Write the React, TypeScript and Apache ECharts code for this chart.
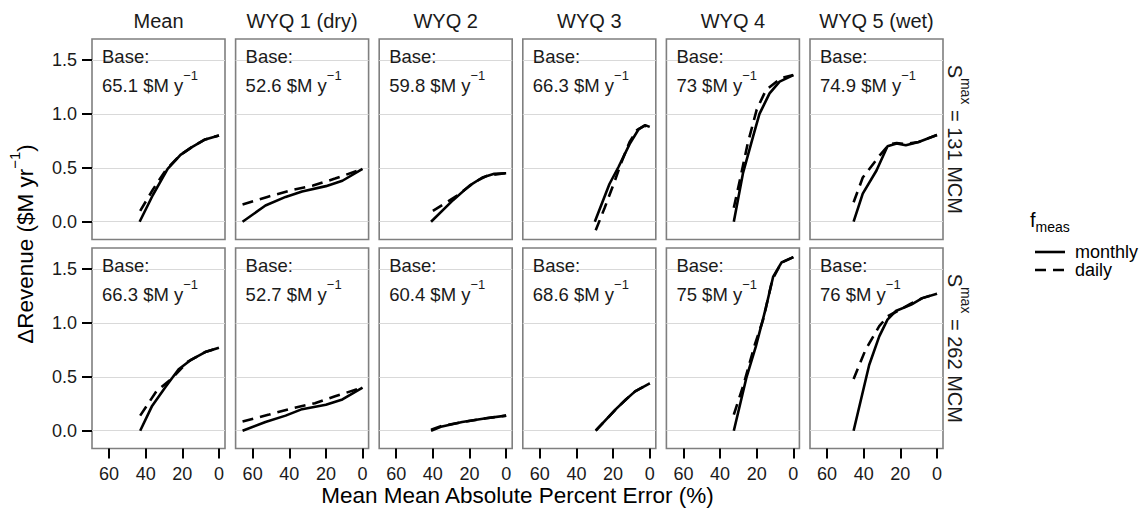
import React, { useEffect, useRef } from "react";
import * as echarts from "echarts";

const facets = ["Mean", "WYQ 1 (dry)", "WYQ 2", "WYQ 3", "WYQ 4", "WYQ 5 (wet)"];
const storages = ["131", "262"];
const baseRevenue131 = ["65.1", "52.6", "59.8", "66.3", "73", "74.9"];
const baseRevenue262 = ["66.3", "52.7", "60.4", "68.6", "75", "76"];
const xTicks = [0, 20, 40, 60];
const yTicks = [0, 0.5, 1.0, 1.5];
const frequencies = ["monthly", "daily"];

// [MAPE %, ΔRevenue $M/yr] per facet
const monthly131 = [
  [[43.3, 0], [36, 0.25], [28, 0.49], [21, 0.62], [15, 0.69], [8, 0.76], [0, 0.8]],
  [[65.5, 0], [53, 0.15], [42, 0.23], [33, 0.28], [20, 0.33], [11, 0.38], [0, 0.49]],
  [[41, 0], [29, 0.2], [20, 0.335], [13, 0.41], [6.5, 0.445], [0, 0.45]],
  [[30, 0], [22, 0.35], [17, 0.51], [11, 0.72], [6, 0.86], [2.5, 0.895], [0, 0.88]],
  [[32.5, 0], [27.5, 0.45], [22, 0.79], [18.5, 1.0], [13, 1.19], [7.5, 1.3], [0, 1.36]],
  [[45.5, 0], [40.5, 0.26], [33, 0.475], [27, 0.7], [22, 0.725], [17, 0.71], [10, 0.74], [0, 0.805]],
];
const daily131 = [
  [[43, 0.1], [36, 0.3], [29, 0.48], [21, 0.62], [15, 0.69], [8, 0.76], [0, 0.8]],
  [[65.5, 0.16], [52, 0.23], [38, 0.295], [27, 0.335], [15, 0.4], [0, 0.49]],
  [[40, 0.1], [27, 0.24], [17, 0.37], [10, 0.43], [0, 0.45]],
  [[29.5, -0.08], [24.6, 0.13], [19.7, 0.35], [15.5, 0.55], [11, 0.74], [7, 0.85], [3, 0.89], [0, 0.88]],
  [[32.5, 0.13], [29, 0.4], [25, 0.72], [20, 1.04], [15, 1.22], [7, 1.33], [0, 1.36]],
  [[45.5, 0.18], [40.5, 0.41], [31, 0.62], [26, 0.72], [22, 0.73], [17, 0.72], [10, 0.74], [0, 0.805]],
];
const monthly262 = [
  [[43, 0], [36.5, 0.23], [29, 0.41], [22, 0.57], [15, 0.66], [7.5, 0.73], [0, 0.77]],
  [[65.5, 0], [53, 0.08], [42, 0.14], [33, 0.2], [20, 0.24], [11, 0.29], [0, 0.4]],
  [[41, 0], [35, 0.04], [24, 0.08], [11, 0.115], [0, 0.14]],
  [[29.5, 0], [24, 0.1], [18.5, 0.2], [13, 0.29], [8, 0.365], [0, 0.44]],
  [[32.5, 0], [25.5, 0.5], [20.5, 0.78], [15, 1.14], [11, 1.43], [6.5, 1.56], [0, 1.61]],
  [[45.5, 0], [37, 0.61], [31.5, 0.875], [27, 1.03], [22.5, 1.11], [14, 1.17], [8, 1.23], [0, 1.27]],
];
const daily262 = [
  [[43, 0.14], [34, 0.37], [26, 0.48], [17, 0.64], [7.5, 0.73], [0, 0.77]],
  [[65.5, 0.085], [51, 0.15], [38, 0.21], [26, 0.255], [15, 0.32], [0, 0.4]],
  [[41, 0.01], [35, 0.045], [24, 0.08], [11, 0.115], [0, 0.14]],
  [[29.5, 0], [24, 0.1], [18.5, 0.2], [13, 0.29], [8, 0.365], [0, 0.44]],
  [[32.5, 0.15], [27.5, 0.41], [21, 0.8], [16.5, 1.03], [11.5, 1.4], [6.5, 1.56], [0, 1.61]],
  [[45.5, 0.48], [39, 0.75], [31.5, 0.97], [27, 1.06], [20.5, 1.12], [14, 1.18], [8, 1.23], [0, 1.27]],
];

const FONT = "Liberation Sans, Arial, Helvetica, sans-serif";
const PANEL_LEFT0 = 92;
const PANEL_STEP = 143.6;
const PANEL_W = 133;
const ROW_TOPS = [39, 248];
const PANEL_H = 200.5;
const X_MIN = -3.3;
const X_MAX = 69.3;
const Y_MIN = -0.165;
const Y_MAX = 1.695;
const DASH = [11, 7];

export default function App() {
  const ref = useRef<HTMLDivElement>(null);
  useEffect(() => {
    if (!ref.current) return;
    const chart = echarts.init(ref.current, null, { renderer: "svg" });

    const grids: any[] = [];
    const xAxes: any[] = [];
    const yAxes: any[] = [];
    const series: any[] = [];
    const graphics: any[] = [];

    const monthlyRows = [monthly131, monthly262];
    const dailyRows = [daily131, daily262];
    const baseRows = [baseRevenue131, baseRevenue262];

    for (let r = 0; r < 2; r++) {
      for (let c = 0; c < 6; c++) {
        const idx = r * 6 + c;
        const left = PANEL_LEFT0 + c * PANEL_STEP;
        const top = ROW_TOPS[r];
        grids.push({
          left,
          top,
          width: PANEL_W,
          height: PANEL_H,
          show: true,
          borderColor: "#7f7f7f",
          borderWidth: 1.6,
          backgroundColor: "#ffffff",
          containLabel: false,
        });
        const isBottom = r === 1;
        const isLeft = c === 0;
        xAxes.push({
          type: "value",
          gridIndex: idx,
          inverse: true,
          min: X_MIN,
          max: X_MAX,
          position: "bottom",
          axisLine: { show: false, onZero: false },
          axisTick: {
            show: isBottom,
            inside: false,
            customValues: xTicks,
            length: 10,
            lineStyle: { color: "#000", width: 2 },
          },
          axisLabel: {
            show: isBottom,
            customValues: xTicks,
            margin: 16,
            fontSize: 18,
            color: "#1a1a1a",
            fontFamily: FONT,
          },
          splitLine: { show: false },
        });
        yAxes.push({
          type: "value",
          gridIndex: idx,
          min: Y_MIN,
          max: Y_MAX,
          position: "left",
          axisLine: { show: false, onZero: false },
          axisTick: {
            show: isLeft,
            inside: false,
            customValues: yTicks,
            length: 10,
            lineStyle: { color: "#000", width: 2 },
          },
          axisLabel: {
            show: isLeft,
            customValues: yTicks,
            margin: 15,
            fontSize: 18,
            color: "#1a1a1a",
            fontFamily: FONT,
            formatter: (v: number) => v.toFixed(1),
          },
          splitLine: { show: true, lineStyle: { color: "#d9d9d9", width: 1 } },
        });
        series.push({
          type: "line",
          name: frequencies[0],
          xAxisIndex: idx,
          yAxisIndex: idx,
          data: monthlyRows[r][c],
          showSymbol: false,
          symbol: "none",
          lineStyle: { color: "#000", width: 2.6, type: "solid" },
          silent: true,
        });
        series.push({
          type: "line",
          name: frequencies[1],
          xAxisIndex: idx,
          yAxisIndex: idx,
          data: dailyRows[r][c],
          showSymbol: false,
          symbol: "none",
          lineStyle: { color: "#000", width: 2.6, type: DASH },
          silent: true,
        });
        // Base annotation
        graphics.push({
          type: "text",
          left: left + 10,
          top: top + 8,
          z: 100,
          style: {
            text: "Base:",
            fontSize: 18.5,
            fontFamily: FONT,
            fill: "#1a1a1a",
          },
        });
        graphics.push({
          type: "text",
          left: left + 10,
          top: top + 30,
          z: 100,
          style: {
            text: `{a|${baseRows[r][c]} $M y}{s|−1}`,
            rich: {
              a: { fontSize: 18.5, fontFamily: FONT, fill: "#1a1a1a", lineHeight: 26, verticalAlign: "bottom" },
              s: { fontSize: 13, fontFamily: FONT, fill: "#1a1a1a", lineHeight: 13, verticalAlign: "top" },
            },
          },
        });
        if (r === 0) {
          graphics.push({
            type: "text",
            x: left + PANEL_W / 2,
            y: 21,
            style: {
              text: facets[c],
              fontSize: 20,
              fontFamily: FONT,
              fill: "#1a1a1a",
              align: "center",
              verticalAlign: "middle",
            },
          });
        }
      }
      // right strip label
      graphics.push({
        type: "text",
        x: 959,
        y: ROW_TOPS[r] + PANEL_H / 2,
        rotation: -Math.PI / 2,
        style: {
          text: `{a|S}{s|max}{a| = ${storages[r]} MCM}`,
          align: "center",
          verticalAlign: "middle",
          rich: {
            a: { fontSize: 20, fontFamily: FONT, fill: "#1a1a1a", lineHeight: 28, verticalAlign: "bottom" },
            s: { fontSize: 14, fontFamily: FONT, fill: "#1a1a1a", lineHeight: 14, verticalAlign: "top" },
          },
        },
      });
    }

    // axis titles
    graphics.push({
      type: "text",
      x: 517.5,
      y: 495,
      style: {
        text: "Mean Mean Absolute Percent Error (%)",
        fontSize: 22.5,
        fontFamily: FONT,
        fill: "#000",
        align: "center",
        verticalAlign: "middle",
      },
    });
    graphics.push({
      type: "text",
      x: 22,
      y: 244,
      rotation: Math.PI / 2,
      style: {
        text: "{a|ΔRevenue ($M yr}{s|−1}{a|)}",
        align: "center",
        verticalAlign: "middle",
        rich: {
          a: { fontSize: 22.5, fontFamily: FONT, fill: "#000", lineHeight: 30, verticalAlign: "bottom" },
          s: { fontSize: 15, fontFamily: FONT, fill: "#000", lineHeight: 15, verticalAlign: "top" },
        },
      },
    });

    // legend
    graphics.push({
      type: "text",
      x: 1030,
      y: 222,
      style: {
        text: "{a|f}{b|meas}",
        verticalAlign: "middle",
        rich: {
          a: { fontSize: 20, fontFamily: FONT, fill: "#000", lineHeight: 24, verticalAlign: "top" },
          b: { fontSize: 14, fontFamily: FONT, fill: "#000", lineHeight: 14, verticalAlign: "bottom" },
        },
      },
    });
    const legendYs = [252, 270];
    frequencies.forEach((f, i) => {
      graphics.push({
        type: "line",
        shape: { x1: 1035, y1: legendYs[i], x2: 1065, y2: legendYs[i] },
        style: { stroke: "#000", lineWidth: 2.6, lineDash: i === 0 ? null : DASH },
      });
      graphics.push({
        type: "text",
        x: 1075,
        y: legendYs[i],
        style: {
          text: f,
          fontSize: 18,
          fontFamily: FONT,
          fill: "#000",
          verticalAlign: "middle",
        },
      });
    });

    chart.setOption({
      animation: false,
      backgroundColor: "#ffffff",
      textStyle: { fontFamily: FONT },
      grid: grids,
      xAxis: xAxes,
      yAxis: yAxes,
      series,
      graphic: graphics,
    });
    return () => chart.dispose();
  }, []);

  return (
    <div
      ref={ref}
      style={{ position: "absolute", left: 0, top: 0, width: 1148, height: 517 }}
    />
  );
}
